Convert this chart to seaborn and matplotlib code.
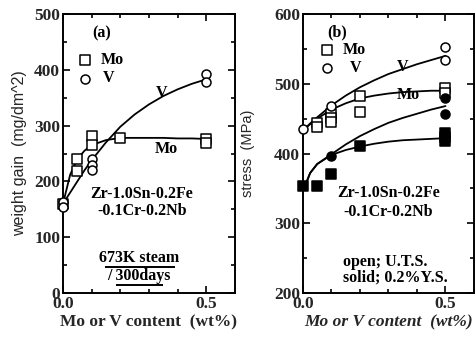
import numpy as np
import pandas as pd
import matplotlib
matplotlib.use('Agg')
import matplotlib.pyplot as plt
import seaborn as sns
from matplotlib.ticker import MultipleLocator, FormatStrFormatter

# ------------------------------------------------------------------------------
# data
# ------------------------------------------------------------------------------

# (a) weight gain after 673K steam / 300 days
wg_mo_x = [0.0, 0.05, 0.05, 0.1, 0.1, 0.2, 0.5, 0.5]
wg_mo_y = [160, 240, 219, 282, 265, 278, 276, 269]
wg_v_x = [0.0, 0.0, 0.1, 0.1, 0.1, 0.5, 0.5]
wg_v_y = [163, 155, 240, 230, 221, 393, 379]

# fitted curves as drawn in (a)
wg_curve_x = [0.0, 0.025, 0.05, 0.075, 0.1, 0.15, 0.2, 0.25, 0.3, 0.35, 0.4, 0.45, 0.5]
wg_curve_mo = [160, 212, 240, 255, 265, 274, 278, 278, 278, 278, 277, 277, 276]
wg_curve_v = [160, 180, 200, 220, 238, 270, 298, 320, 338, 353, 365, 375, 383]

# (b) tensile properties, open = U.T.S., solid = 0.2% Y.S.
uts_mo_x = [0.05, 0.05, 0.1, 0.1, 0.1, 0.2, 0.2, 0.5, 0.5]
uts_mo_y = [444, 438, 457, 451, 445, 483, 459, 494, 487]
uts_v_x = [0.0, 0.1, 0.5, 0.5]
uts_v_y = [435, 468, 553, 534]
ys_mo_x = [0.0, 0.05, 0.1, 0.2, 0.5, 0.5, 0.5]
ys_mo_y = [354, 353, 371, 411, 430, 424, 418]
ys_v_x = [0.1, 0.5, 0.5]
ys_v_y = [397, 480, 456]

# fitted curves as drawn in (b)
st_curve_x = [0.0, 0.025, 0.05, 0.1, 0.15, 0.2, 0.25, 0.3, 0.35, 0.4, 0.45, 0.5]
uts_curve_v = [433, 443, 452, 469, 483, 495, 505, 514, 521, 528, 534, 540]
uts_curve_mo = [433, 442, 450, 463, 472, 479, 483, 486, 488, 489, 490, 490]
ys_curve_v = [346, 372, 385, 399, 413, 425, 435, 444, 451, 457, 463, 468]
ys_curve_mo = [346, 372, 385, 398, 405, 410, 414, 417, 419, 420, 421, 422]

# ------------------------------------------------------------------------------
# style
# ------------------------------------------------------------------------------

sns.set_style('ticks')
plt.rcParams['font.family'] = ['Liberation Serif', 'DejaVu Serif']
plt.rcParams['axes.linewidth'] = 1.4

SERIF = 'Liberation Serif'
SANS = 'Liberation Sans'
TXT = dict(family=SERIF, fontsize=11.5, fontweight='bold', color='black')

fig = plt.figure(figsize=(4.77, 3.40), dpi=100)
ax1 = fig.add_axes([63 / 477, 47 / 340, 172 / 477, 279 / 340])
ax2 = fig.add_axes([303 / 477, 47 / 340, 171 / 477, 279 / 340])

sq = dict(marker='s', s=48, facecolor='white', edgecolor='black', linewidth=1.1, zorder=3, clip_on=False)
ci = dict(marker='o', s=42, facecolor='white', edgecolor='black', linewidth=1.1, zorder=3, clip_on=False)
sq_f = dict(marker='s', s=48, color='black', edgecolor='black', linewidth=1.1, zorder=3, clip_on=False)
ci_f = dict(marker='o', s=42, color='black', edgecolor='black', linewidth=1.1, zorder=3, clip_on=False)
ln = dict(color='black', linewidth=1.3, zorder=2)

# ------------------------------------------------------------------------------
# (a) weight gain
# ------------------------------------------------------------------------------

sns.lineplot(x=wg_curve_x, y=wg_curve_mo, ax=ax1, **ln)
sns.lineplot(x=wg_curve_x, y=wg_curve_v, ax=ax1, **ln)
sns.scatterplot(x=wg_mo_x, y=wg_mo_y, ax=ax1, **sq)
sns.scatterplot(x=wg_v_x, y=wg_v_y, ax=ax1, **ci)

ax1.set_xlim(0, 0.6)
ax1.set_ylim(0, 500)
ax1.yaxis.set_major_locator(MultipleLocator(100))
ax1.yaxis.set_minor_locator(MultipleLocator(50))

# legend drawn as in the figure
sns.scatterplot(x=[0.075], y=[418], ax=ax1, **sq)
sns.scatterplot(x=[0.075], y=[384], ax=ax1, **ci)
ax1.text(0.13, 418, 'Mo', va='center', ha='left', **TXT)
ax1.text(0.14, 386, 'V', va='center', ha='left', **TXT)
ax1.text(0.135, 466, '(a)', ha='center', va='center', **TXT)

ax1.text(0.345, 358, 'V', ha='center', va='center', **TXT)
ax1.text(0.36, 258, 'Mo', ha='center', va='center', **TXT)
ax1.text(0.275, 177, 'Zr-1.0Sn-0.2Fe', ha='center', va='center', **TXT)
ax1.text(0.275, 147, '-0.1Cr-0.2Nb', ha='center', va='center', **TXT)
ax1.text(0.265, 62, '673K steam', ha='center', va='center', **TXT)
ax1.text(0.265, 31, '/ 300days', ha='center', va='center', **TXT)
ax1.hlines([46, 15], [0.145, 0.185], [0.39, 0.35], color='black', linewidth=1.4)

ax1.set_ylabel('weight gain  (mg/dm^2)', family=SANS, fontsize=11.5, labelpad=5)
ax1.set_xlabel('Mo or V content  (wt%)', family=SERIF, fontsize=12.5,
               fontweight='bold', labelpad=2)

# ------------------------------------------------------------------------------
# (b) stress
# ------------------------------------------------------------------------------

for yc in [uts_curve_v, uts_curve_mo, ys_curve_v, ys_curve_mo]:
    sns.lineplot(x=st_curve_x, y=yc, ax=ax2, **ln)
sns.scatterplot(x=uts_mo_x, y=uts_mo_y, ax=ax2, **sq)
sns.scatterplot(x=uts_v_x, y=uts_v_y, ax=ax2, **ci)
sns.scatterplot(x=ys_mo_x, y=ys_mo_y, ax=ax2, **sq_f)
sns.scatterplot(x=ys_v_x, y=ys_v_y, ax=ax2, **ci_f)

ax2.set_xlim(0, 0.6)
ax2.set_ylim(200, 600)
ax2.yaxis.set_major_locator(MultipleLocator(100))
ax2.yaxis.set_minor_locator(MultipleLocator(50))

sns.scatterplot(x=[0.085], y=[548], ax=ax2, **sq)
sns.scatterplot(x=[0.085], y=[523], ax=ax2, **ci)
ax2.text(0.14, 549, 'Mo', va='center', ha='left', **TXT)
ax2.text(0.165, 523, 'V', va='center', ha='left', **TXT)
ax2.text(0.12, 574, '(b)', ha='center', va='center', **TXT)

ax2.text(0.35, 524, 'V', ha='center', va='center', **TXT)
ax2.text(0.37, 484, 'Mo', ha='center', va='center', **TXT)
ax2.text(0.30, 343, 'Zr-1.0Sn-0.2Fe', ha='center', va='center', **TXT)
ax2.text(0.30, 316, '-0.1Cr-0.2Nb', ha='center', va='center', **TXT)
ax2.text(0.14, 245, 'open; U.T.S.', ha='left', va='center', **TXT)
ax2.text(0.14, 222, 'solid; 0.2%Y.S.', ha='left', va='center', **TXT)

ax2.set_ylabel('stress  (MPa)', family=SANS, fontsize=10.5, labelpad=14)
ax2.set_xlabel('Mo or V content  (wt%)', family=SERIF, fontsize=12.5,
               fontweight='bold', style='italic', labelpad=2)

# ------------------------------------------------------------------------------
# shared axis params
# ------------------------------------------------------------------------------

for ax in (ax1, ax2):
    ax.xaxis.set_major_locator(MultipleLocator(0.5))
    ax.xaxis.set_minor_locator(MultipleLocator(0.1))
    ax.xaxis.set_major_formatter(FormatStrFormatter('%.1f'))
    ax.tick_params(which='both', direction='in', top=True, right=True,
                   color='black', width=1.2)
    ax.tick_params(which='major', length=5, pad=2)
    ax.tick_params(which='minor', length=3)
    for lab in ax.get_xticklabels() + ax.get_yticklabels():
        lab.set_family(SERIF)
        lab.set_fontweight('bold')
        lab.set_fontsize(12.5)
    for s in ax.spines.values():
        s.set_visible(True)
        s.set_color('black')

plt.savefig('out.png', dpi=100)
plt.close()
